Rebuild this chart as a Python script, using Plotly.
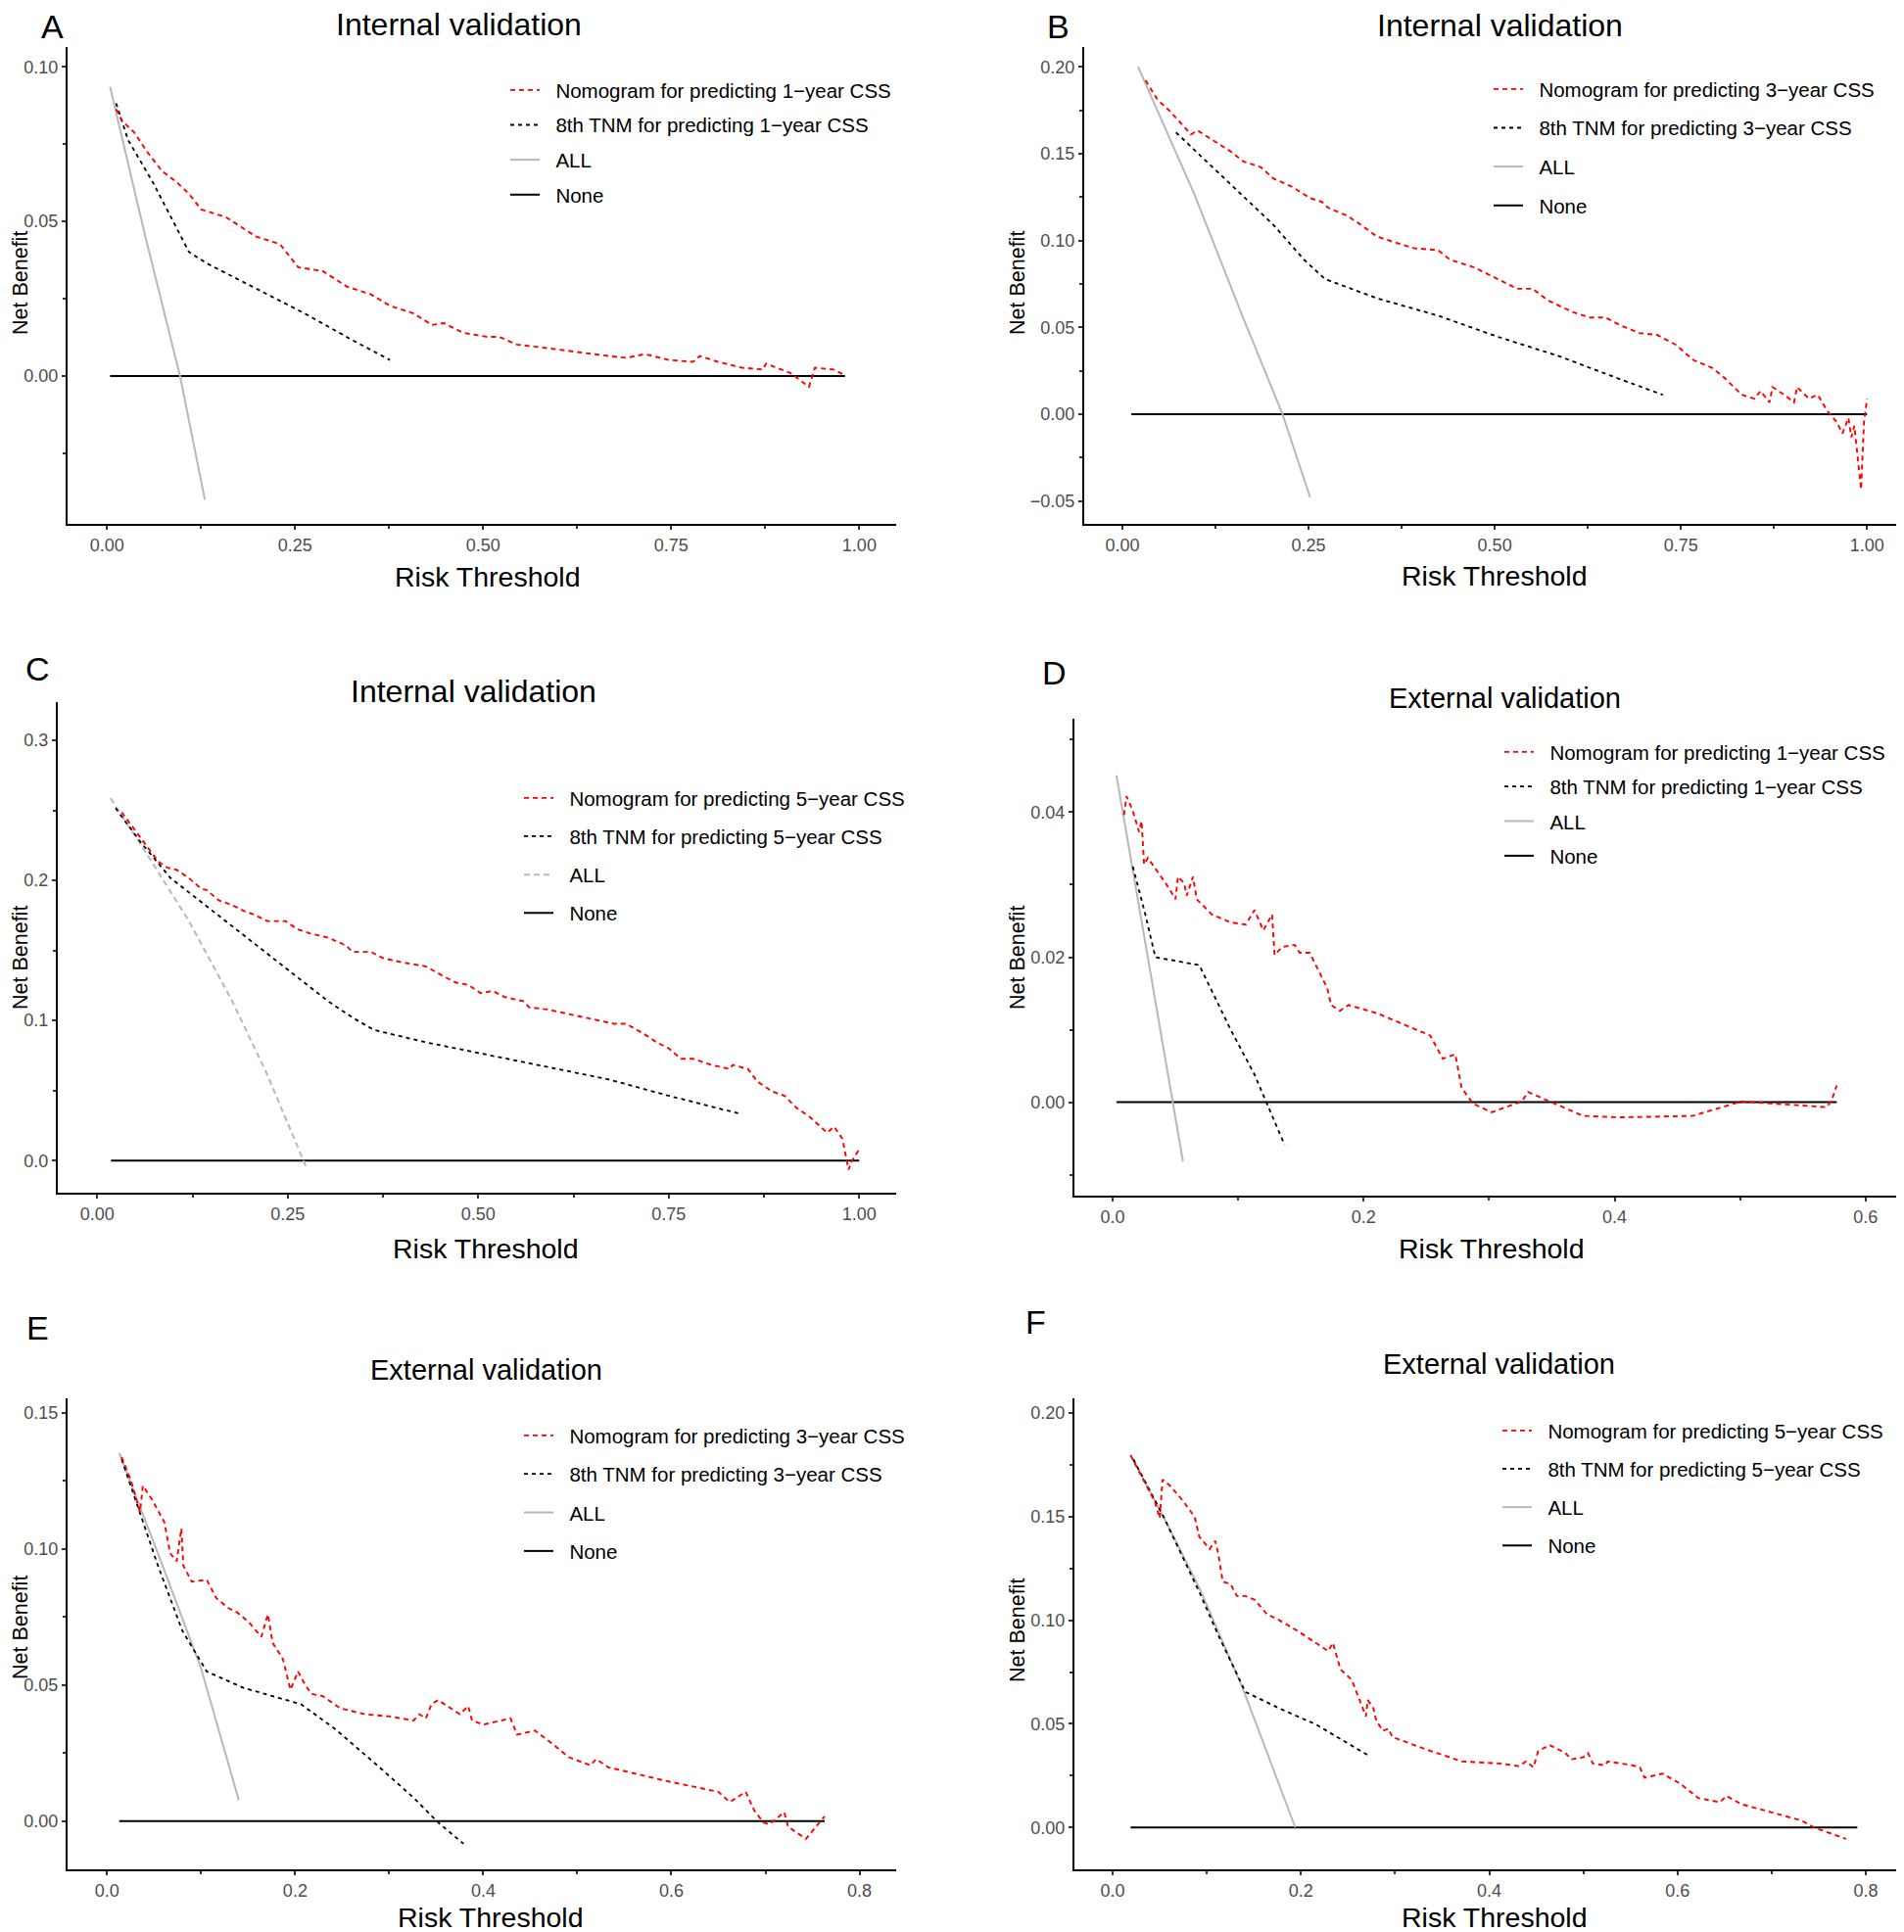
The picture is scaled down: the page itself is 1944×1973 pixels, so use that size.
import plotly.graph_objects as go

W, H = 1944, 1973
OFF = 8  # the page body adds an 8px margin; pixel positions below are page positions

# ---------------- data (risk threshold, net benefit) ----------------
# A: internal validation, 1-year
a_nomo_x = [0.012, 0.020, 0.036, 0.053, 0.073, 0.093, 0.109, 0.125, 0.158, 0.182, 0.198, 0.214, 0.230, 0.254,
            0.287, 0.319, 0.351, 0.376, 0.408, 0.432, 0.448, 0.473, 0.505, 0.521, 0.545, 0.586, 0.626, 0.666,
            0.690, 0.715, 0.747, 0.779, 0.788, 0.812, 0.844, 0.872, 0.876, 0.909, 0.933, 0.941, 0.966, 0.981]
a_nomo_y = [0.0863, 0.0825, 0.0788, 0.0726, 0.0663, 0.0626, 0.0589, 0.0539, 0.0514, 0.0476, 0.0451, 0.0439,
            0.0426, 0.0352, 0.0339, 0.0289, 0.0264, 0.0227, 0.0202, 0.0165, 0.0171, 0.0140, 0.0127, 0.0127,
            0.0102, 0.0090, 0.0077, 0.0065, 0.0059, 0.0071, 0.0052, 0.0046, 0.0065, 0.0046, 0.0027, 0.0021,
            0.0040, 0.0009, -0.0035, 0.0027, 0.0021, 0.0002]
a_tnm_x = [0.012, 0.028, 0.061, 0.085, 0.109, 0.133, 0.182, 0.263, 0.327, 0.376]
a_tnm_y = [0.0882, 0.0763, 0.0626, 0.0514, 0.0401, 0.0364, 0.0302, 0.0202, 0.0115, 0.0052]
a_all_x = [0.004, 0.05, 0.097, 0.130]
a_all_y = [0.0935, 0.046, 0.0, -0.040]
a_none_x = [0.004, 0.981]

# B: internal validation, 3-year
b_nomo_x = [0.031, 0.047, 0.064, 0.080, 0.092, 0.101, 0.121, 0.146, 0.162, 0.186, 0.203, 0.227, 0.252, 0.268,
            0.276, 0.301, 0.317, 0.342, 0.374, 0.391, 0.424, 0.440, 0.473, 0.505, 0.530, 0.551, 0.571, 0.604,
            0.628, 0.649, 0.669, 0.694, 0.718, 0.743, 0.767, 0.792, 0.808, 0.832, 0.849, 0.857, 0.869, 0.873,
            0.889, 0.902, 0.906, 0.922, 0.934, 0.946, 0.959, 0.967, 0.975, 0.979, 0.983, 0.992, 0.996, 1.0]
b_nomo_y = [0.1922, 0.1811, 0.1744, 0.1667, 0.1611, 0.1633, 0.1578, 0.1511, 0.1456, 0.1422, 0.1356, 0.1311,
            0.1244, 0.1222, 0.1189, 0.1144, 0.1100, 0.1022, 0.0978, 0.0956, 0.0944, 0.0889, 0.0844, 0.0778,
            0.0722, 0.0722, 0.0656, 0.0589, 0.0556, 0.0556, 0.0511, 0.0467, 0.0456, 0.0400, 0.0311, 0.0267,
            0.0211, 0.0111, 0.0089, 0.0133, 0.0067, 0.0156, 0.0111, 0.0067, 0.0156, 0.0089, 0.0111, 0.0022,
            -0.0044, -0.0111, -0.0022, -0.0133, -0.0067, -0.0433, -0.0044, 0.0089]
b_tnm_x = [0.072, 0.137, 0.203, 0.244, 0.272, 0.342, 0.424, 0.505, 0.587, 0.669, 0.726]
b_tnm_y = [0.1622, 0.1356, 0.1089, 0.0889, 0.0778, 0.0667, 0.0567, 0.0444, 0.0333, 0.0200, 0.0111]
b_all_x = [0.021, 0.0965, 0.162, 0.215, 0.252]
b_all_y = [0.200, 0.1267, 0.0556, 0.0, -0.0478]
b_none_x = [0.012, 1.0]

# C: internal validation, 5-year
c_nomo_x = [0.032, 0.048, 0.064, 0.080, 0.092, 0.104, 0.120, 0.136, 0.144, 0.160, 0.176, 0.192, 0.207, 0.223,
            0.247, 0.263, 0.279, 0.303, 0.327, 0.335, 0.359, 0.375, 0.399, 0.431, 0.455, 0.471, 0.487, 0.503,
            0.519, 0.535, 0.559, 0.567, 0.591, 0.615, 0.638, 0.654, 0.678, 0.694, 0.718, 0.734, 0.750, 0.766,
            0.782, 0.806, 0.830, 0.834, 0.854, 0.866, 0.886, 0.902, 0.918, 0.934, 0.946, 0.958, 0.967, 0.978,
            0.986, 0.990, 1.0]
c_nomo_y = [0.2487, 0.237, 0.2252, 0.2135, 0.2091, 0.2076, 0.2018, 0.1944, 0.193, 0.1856, 0.1827, 0.1783,
            0.1754, 0.171, 0.171, 0.1651, 0.1622, 0.1592, 0.1534, 0.149, 0.149, 0.1446, 0.1416, 0.1387,
            0.1314, 0.127, 0.1255, 0.1196, 0.1211, 0.1167, 0.1138, 0.1094, 0.1079, 0.105, 0.1021, 0.1006,
            0.0977, 0.0977, 0.0903, 0.0845, 0.0801, 0.0727, 0.0727, 0.0683, 0.0654, 0.0683, 0.0654, 0.0566,
            0.0493, 0.0463, 0.0375, 0.0317, 0.0258, 0.0199, 0.0243, 0.0155, -0.0065, -0.0006, 0.0082]
c_tnm_x = [0.024, 0.056, 0.096, 0.152, 0.207, 0.255, 0.303, 0.335, 0.363, 0.431, 0.511, 0.591, 0.670, 0.750, 0.846]
c_tnm_y = [0.2516, 0.228, 0.2018, 0.178, 0.1548, 0.1343, 0.1138, 0.1021, 0.0933, 0.0845, 0.0757, 0.0669,
           0.0581, 0.0463, 0.0331]
c_all_x = [0.0175, 0.070, 0.120, 0.177, 0.223, 0.275]
c_all_y = [0.2587, 0.2147, 0.1713, 0.1140, 0.0615, -0.0056]
c_none_x = [0.018, 1.0]

# D: external validation, 1-year
d_nomo_x = [0.009, 0.011, 0.016, 0.021, 0.023, 0.025, 0.028, 0.035, 0.043, 0.050, 0.052, 0.057, 0.059, 0.064,
            0.067, 0.079, 0.094, 0.106, 0.113, 0.120, 0.127, 0.129, 0.135, 0.145, 0.149, 0.157, 0.171, 0.174,
            0.181, 0.188, 0.210, 0.253, 0.263, 0.273, 0.278, 0.287, 0.302, 0.326, 0.331, 0.348, 0.375, 0.404,
            0.462, 0.501, 0.569, 0.573, 0.577]
d_nomo_y = [0.0396, 0.0422, 0.0402, 0.0373, 0.0388, 0.0328, 0.0337, 0.032, 0.030, 0.028, 0.0311, 0.0302,
            0.0285, 0.0311, 0.0280, 0.0259, 0.0248, 0.0245, 0.0265, 0.0237, 0.0259, 0.0203, 0.0214, 0.0217,
            0.0206, 0.0206, 0.0157, 0.0134, 0.0126, 0.0134, 0.0123, 0.0092, 0.0060, 0.0066, 0.0020, -0.0002,
            -0.0014, 0.0001, 0.0014, 0.0001, -0.0019, -0.0021, -0.0019, 0.0001, -0.0007, 0.0003, 0.0023]
d_tnm_x = [0.016, 0.026, 0.034, 0.069, 0.094, 0.113, 0.137]
d_tnm_y = [0.0325, 0.0259, 0.020, 0.0189, 0.010, 0.0038, -0.0059]
d_all_x = [0.003, 0.030, 0.056]
d_all_y = [0.0451, 0.018, -0.0082]
d_none_x = [0.003, 0.577]

# E: external validation, 3-year
e_nomo_x = [0.0155, 0.025, 0.035, 0.038, 0.048, 0.061, 0.067, 0.074, 0.079, 0.081, 0.090, 0.106, 0.116, 0.129,
            0.138, 0.151, 0.164, 0.171, 0.176, 0.187, 0.195, 0.203, 0.210, 0.217, 0.229, 0.248, 0.274, 0.300,
            0.326, 0.332, 0.339, 0.345, 0.352, 0.375, 0.384, 0.388, 0.400, 0.429, 0.436, 0.455, 0.475, 0.491,
            0.514, 0.520, 0.533, 0.598, 0.650, 0.662, 0.679, 0.688, 0.698, 0.704, 0.720, 0.724, 0.743, 0.763]
e_nomo_y = [0.1338, 0.1256, 0.1136, 0.1233, 0.1181, 0.1098, 0.0985, 0.0955, 0.1076, 0.0940, 0.0880, 0.0887,
            0.0820, 0.0783, 0.0768, 0.0730, 0.0678, 0.0760, 0.0656, 0.0595, 0.0483, 0.0550, 0.0505, 0.0468,
            0.0460, 0.0415, 0.0393, 0.0385, 0.0370, 0.0393, 0.0378, 0.0430, 0.0445, 0.0393, 0.0423, 0.0370,
            0.0355, 0.0378, 0.0318, 0.0333, 0.0280, 0.0235, 0.0205, 0.0228, 0.0198, 0.0145, 0.0108, 0.0070,
            0.0108, 0.0040, -0.0005, -0.0012, 0.0033, -0.0020, -0.0065, 0.0018]
e_tnm_x = [0.0155, 0.054, 0.080, 0.106, 0.145, 0.206, 0.242, 0.287, 0.326, 0.352, 0.379]
e_tnm_y = [0.133, 0.094, 0.070, 0.055, 0.049, 0.043, 0.034, 0.0206, 0.0086, -0.0005, -0.0083]
e_all_x = [0.013, 0.054, 0.0996, 0.140]
e_all_y = [0.1353, 0.0985, 0.0565, 0.0078]
e_none_x = [0.013, 0.763]

# F: external validation, 5-year
f_nomo_x = [0.019, 0.035, 0.045, 0.050, 0.053, 0.061, 0.074, 0.087, 0.092, 0.103, 0.109, 0.112, 0.117, 0.125,
            0.132, 0.141, 0.151, 0.164, 0.177, 0.196, 0.216, 0.229, 0.234, 0.242, 0.254, 0.262, 0.269, 0.271,
            0.277, 0.280, 0.287, 0.293, 0.297, 0.332, 0.371, 0.410, 0.432, 0.439, 0.447, 0.452, 0.464, 0.481,
            0.487, 0.500, 0.505, 0.510, 0.523, 0.526, 0.552, 0.560, 0.565, 0.584, 0.603, 0.622, 0.645, 0.652,
            0.668, 0.700, 0.732, 0.745, 0.779]
f_nomo_y = [0.1797, 0.1659, 0.157, 0.1492, 0.1679, 0.1649, 0.158, 0.150, 0.1403, 0.1344, 0.1383, 0.1324,
            0.1186, 0.1176, 0.1117, 0.1117, 0.1098, 0.1029, 0.100, 0.095, 0.0891, 0.0851, 0.0891, 0.0763,
            0.0713, 0.0615, 0.0536, 0.0615, 0.0575, 0.0516, 0.0467, 0.0477, 0.0437, 0.0378, 0.0319, 0.0309,
            0.0296, 0.0319, 0.0290, 0.0368, 0.0398, 0.0359, 0.0329, 0.0339, 0.0359, 0.0309, 0.0300, 0.0319,
            0.0300, 0.0290, 0.0240, 0.0260, 0.0211, 0.0142, 0.0122, 0.0152, 0.0112, 0.0073, 0.0033, 0.0, -0.0055]
f_tnm_x = [0.022, 0.054, 0.093, 0.112, 0.141, 0.177, 0.216, 0.271]
f_tnm_y = [0.1777, 0.150, 0.1127, 0.093, 0.0654, 0.0575, 0.0497, 0.0349]
f_all_x = [0.019, 0.054, 0.093, 0.138, 0.194]
f_all_y = [0.1797, 0.150, 0.1147, 0.0674, 0.0]
f_none_x = [0.019, 0.791]

letters = ["A", "B", "C", "D", "E", "F"]
titles = ["Internal validation"] * 3 + ["External validation"] * 3
years = ["1", "3", "5", "1", "3", "5"]

# ---------------- layout of the six panels (page pixels) ----------------
FONT = "Liberation Sans, Arial, sans-serif"

panels = [
    dict(data=(a_nomo_x, a_nomo_y, a_tnm_x, a_tnm_y, a_all_x, a_all_y, a_none_x), all_dash="solid",
         box=(69, 48, 915, 535), xr=[-0.0525, 1.049], yr=[-0.0478, 0.1064], xd=0.25, yd=0.05, xf=".2f", yf=".2f",
         letter=(53, 27), title=(468, 25), tsize=32, rt=(498, 589), nb=(21, 289), leg=(516, 92), gap=6),
    dict(data=(b_nomo_x, b_nomo_y, b_tnm_x, b_tnm_y, b_all_x, b_all_y, b_none_x), all_dash="solid",
         box=(1107, 48, 1952, 535), xr=[-0.0513, 1.0602], yr=[-0.0632, 0.2114], xd=0.25, yd=0.05, xf=".2f", yf=".2f",
         letter=(1080, 27), title=(1531, 26), tsize=32, rt=(1526, 588), nb=(1039, 289), leg=(1520, 91), gap=10),
    dict(data=(c_nomo_x, c_nomo_y, c_tnm_x, c_tnm_y, c_all_x, c_all_y, c_none_x), all_dash="6px,4px",
         box=(59, 717, 915, 1218), xr=[-0.0518, 1.0485], yr=[-0.0229, 0.3273], xd=0.25, yd=0.1, xf=".2f", yf=".1f",
         letter=(38, 683), title=(483, 706), tsize=32, rt=(496, 1275), nb=(21, 978), leg=(530, 815), gap=9.5),
    dict(data=(d_nomo_x, d_nomo_y, d_tnm_x, d_tnm_y, d_all_x, d_all_y, d_none_x), all_dash="solid",
         box=(1097, 734, 1952, 1221), xr=[-0.0305, 0.6368], yr=[-0.0129, 0.0529], xd=0.2, yd=0.02, xf=".1f", yf=".2f",
         letter=(1076, 687), title=(1536, 713), tsize=29, rt=(1523, 1275), nb=(1039, 978), leg=(1531, 768), gap=5.7),
    dict(data=(e_nomo_x, e_nomo_y, e_tnm_x, e_tnm_y, e_all_x, e_all_y, e_none_x), all_dash="solid",
         box=(69, 1428, 915, 1909), xr=[-0.042, 0.839], yr=[-0.0177, 0.1554], xd=0.2, yd=0.05, xf=".1f", yf=".2f",
         letter=(38, 1356), title=(496, 1399), tsize=29, rt=(501, 1958), nb=(21, 1662), leg=(530, 1466), gap=9.7),
    dict(data=(f_nomo_x, f_nomo_y, f_tnm_x, f_tnm_y, f_all_x, f_all_y, f_none_x), all_dash="solid",
         box=(1097, 1428, 1952, 1909), xr=[-0.0406, 0.8489], yr=[-0.0202, 0.2071], xd=0.2, yd=0.05, xf=".1f", yf=".2f",
         letter=(1057, 1350), title=(1530, 1393), tsize=29, rt=(1526, 1958), nb=(1039, 1665), leg=(1529, 1461), gap=9.5),
]


def px(v):
    return (v - OFF) / W


def py(v):
    return 1 - (v - OFF) / H


fig = go.Figure()
layout = {}
annotations = []
SP = "\u00a0\u00a0"

for i, p in enumerate(panels, start=1):
    sfx = "" if i == 1 else str(i)
    xa, ya, leg = "x" + sfx, "y" + sfx, "legend" + sfx
    nx, ny, tx, ty, ax_, ay, nonex = p["data"]
    yr = years[i - 1]

    common = dict(xaxis=xa, yaxis=ya, legend=leg, mode="lines")
    fig.add_trace(go.Scatter(x=nonex, y=[0, 0], name=SP + "None", legendrank=4, legendgroup=f"n{i}",
                             line=dict(color="black", width=2), **common))
    fig.add_trace(go.Scatter(x=ax_, y=ay, name=SP + "ALL", legendrank=3, legendgroup=f"a{i}",
                             line=dict(color="#b8b8b8", width=2, dash=p["all_dash"]), **common))
    fig.add_trace(go.Scatter(x=tx, y=ty, name=SP + f"8th TNM for predicting {yr}\u2212year CSS", legendrank=2,
                             legendgroup=f"t{i}", line=dict(color="black", width=1.8, dash="4px,4px"), **common))
    fig.add_trace(go.Scatter(x=nx, y=ny, name=SP + f"Nomogram for predicting {yr}\u2212year CSS", legendrank=1,
                             legendgroup=f"m{i}", line=dict(color="red", width=1.9, dash="5px,4px"), **common))

    x0, y0, x1, y1 = p["box"]
    tick_common = dict(showline=True, linecolor="black", linewidth=2.2, ticks="outside", ticklen=4,
                       tickwidth=1.5, tickcolor="#333333", showgrid=False, zeroline=False,
                       tickfont=dict(family=FONT, size=18, color="#4d4d4d"))
    layout["xaxis" + sfx] = dict(domain=[px(x0), min(px(x1), 1.0)], anchor=ya, range=p["xr"], tick0=0,
                                 dtick=p["xd"], tickformat=p["xf"],
                                 minor=dict(ticks="outside", ticklen=3, tickcolor="#333333", tick0=0,
                                            dtick=p["xd"] / 2, showgrid=False),
                                 **tick_common)
    layout["yaxis" + sfx] = dict(domain=[py(y1), py(y0)], anchor=xa, range=p["yr"], tick0=0, dtick=p["yd"],
                                 tickformat=p["yf"],
                                 minor=dict(ticks="outside", ticklen=3, tickcolor="#333333", tick0=0,
                                            dtick=p["yd"] / 2, showgrid=False),
                                 **tick_common)
    lx, ly = p["leg"]
    layout[leg] = dict(x=px(lx), y=py(ly - 20), xanchor="left", yanchor="top", bgcolor="rgba(0,0,0,0)",
                       font=dict(family=FONT, size=20.5, color="black"), traceorder="grouped",
                       tracegroupgap=p["gap"], itemwidth=30)

    def txt(s, xy, size, angle=0):
        annotations.append(dict(text=s, x=px(xy[0]), y=py(xy[1]), xref="paper", yref="paper",
                                showarrow=False, xanchor="center", yanchor="middle", textangle=angle,
                                font=dict(family=FONT, size=size, color="black")))

    txt(letters[i - 1], p["letter"], 34)
    txt(titles[i - 1], p["title"], p["tsize"])
    txt("Risk Threshold", p["rt"], 28.5)
    txt("Net Benefit", p["nb"], 21.5, angle=-90)

fig.update_layout(width=W, height=H, margin=dict(l=0, r=0, t=0, b=0), paper_bgcolor="white",
                  plot_bgcolor="white", annotations=annotations, showlegend=True, **layout)

fig.write_html("out.html")
